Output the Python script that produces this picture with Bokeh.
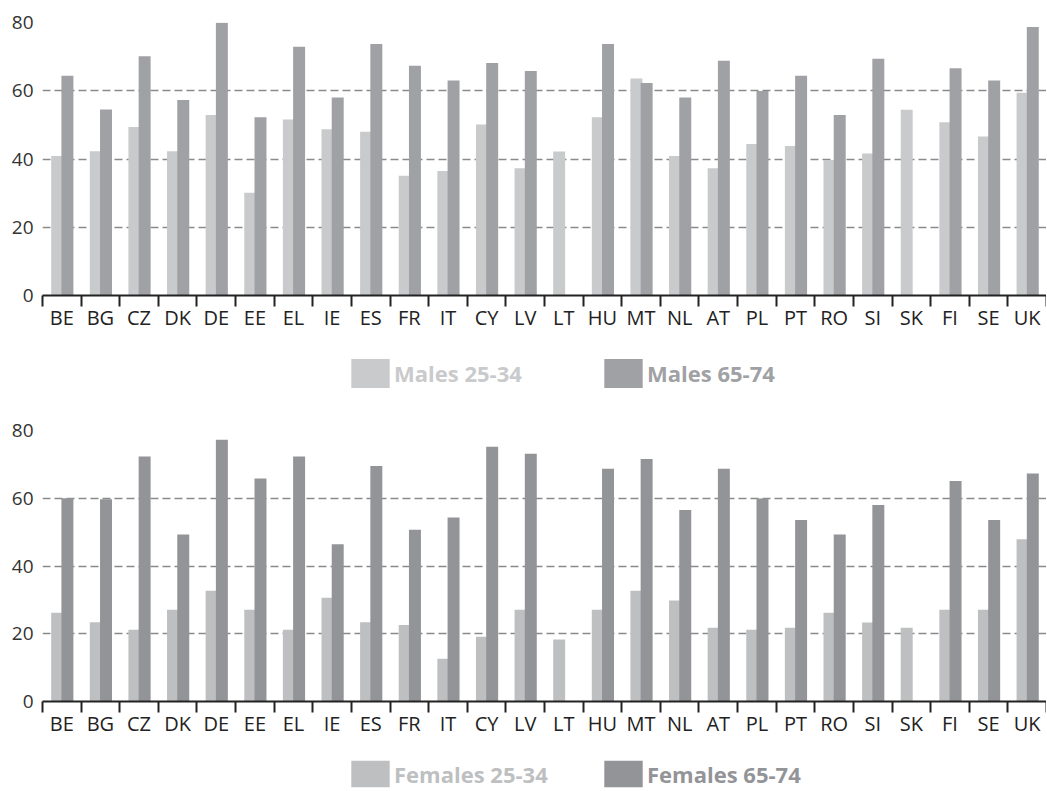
import numpy as np
from bokeh.plotting import figure
from bokeh.models import Range1d, FixedTicker, Legend, LegendItem, ColumnDataSource
from bokeh.layouts import column
from bokeh.embed import file_html
from bokeh.resources import INLINE

countries = ["BE", "BG", "CZ", "DK", "DE", "EE", "EL", "IE", "ES", "FR", "IT", "CY", "LV",
             "LT", "HU", "MT", "NL", "AT", "PL", "PT", "RO", "SI", "SK", "FI", "SE", "UK"]

males_25_34 = [40.9, 42.3, 49.4, 42.3, 52.9, 30.1, 51.6, 48.7, 48.0, 35.1, 36.5, 50.1, 37.3,
               42.2, 52.2, 63.6, 40.9, 37.3, 44.4, 43.8, 39.7, 41.6, 54.4, 50.8, 46.6, 59.4]
males_65_74 = [64.4, 54.5, 70.1, 57.3, 79.9, 52.2, 72.9, 58.0, 73.7, 67.3, 63.0, 68.1, 65.8,
               np.nan, 73.7, 62.3, 58.0, 68.8, 59.9, 64.4, 52.9, 69.4, np.nan, 66.6, 63.0, 78.7]
females_25_34 = [26.2, 23.4, 21.2, 27.1, 32.7, 27.1, 21.2, 30.6, 23.4, 22.6, 12.6, 19.1, 27.1,
                 18.3, 27.1, 32.7, 29.8, 21.8, 21.2, 21.8, 26.2, 23.3, 21.8, 27.1, 27.1, 47.9]
females_65_74 = [60.0, 59.7, 72.3, 49.3, 77.3, 65.8, 72.3, 46.4, 69.5, 50.7, 54.3, 75.2, 73.1,
                 np.nan, 68.7, 71.6, 56.5, 68.7, 59.9, 53.6, 49.3, 58.0, np.nan, 65.1, 53.6, 67.3]

y_ticks = [0, 20, 40, 60, 80]
legend_top = ["Males 25-34", "Males 65-74"]
legend_bottom = ["Females 25-34", "Females 65-74"]

FONT = "Open Sans"
W = 1046


def make_chart(young, old, light, dark, height, border_top, border_bottom):
    n = len(countries)
    idx = np.arange(n)
    src = ColumnDataSource(dict(
        xl=idx + 0.38, xd=idx + 0.645,
        young=np.array(young, dtype=float), old=np.array(old, dtype=float)))

    p = figure(width=W, height=height, output_backend="svg", toolbar_location=None,
               x_range=Range1d(0, n), y_range=Range1d(0, 80),
               min_border_left=42, min_border_right=0,
               min_border_top=border_top, min_border_bottom=border_bottom)
    p.outline_line_color = None

    p.vbar(x="xl", top="young", width=0.31, source=src, fill_color=light, line_color=None)
    p.vbar(x="xd", top="old", width=0.31, source=src, fill_color=dark, line_color=None)

    # x axis: labels at category centres, ticks at category boundaries
    centers = [i + 0.5 for i in range(n)]
    bounds = [float(i) for i in range(n + 1)]
    xa = p.xaxis[0]
    xa.ticker = FixedTicker(ticks=centers, minor_ticks=bounds)
    xa.major_label_overrides = {c: lab for c, lab in zip(centers, countries)}
    xa.major_tick_line_color = None
    xa.major_tick_out = 0
    xa.major_tick_in = 0
    xa.minor_tick_out = 11
    xa.minor_tick_in = 0
    xa.minor_tick_line_color = "#222222"
    xa.minor_tick_line_width = 2
    xa.axis_line_color = "#222222"
    xa.axis_line_width = 2
    xa.major_label_text_font = FONT
    xa.major_label_text_font_size = "20px"
    xa.major_label_text_color = "#222222"
    xa.major_label_standoff = -3

    ya = p.yaxis[0]
    ya.ticker = FixedTicker(ticks=y_ticks, minor_ticks=[])
    ya.axis_line_color = None
    ya.major_tick_line_color = None
    ya.minor_tick_line_color = None
    ya.major_label_text_font = FONT
    ya.major_label_text_font_size = "19px"
    ya.major_label_text_color = "#333333"
    ya.major_label_standoff = 3

    p.xgrid.grid_line_color = None
    p.ygrid.ticker = FixedTicker(ticks=y_ticks[1:])
    p.ygrid.grid_line_color = "#8a8a8a"
    p.ygrid.grid_line_width = 1.5
    p.ygrid.grid_line_dash = "8 4"
    return p


def make_legend(labels, light, dark, height, glyph_h, y0):
    q = figure(width=W, height=height, output_backend="svg", toolbar_location=None,
               x_range=Range1d(0, 1), y_range=Range1d(0, 1),
               x_axis_location=None, y_axis_location=None,
               min_border=0, min_border_left=0, min_border_right=0,
               min_border_top=0, min_border_bottom=0)
    q.outline_line_color = None
    q.xgrid.visible = False
    q.ygrid.visible = False
    # zero-height swatch renderers: only their legend entries are visible
    ra = q.vbar(x=[0.5], top=[0], width=0.1, fill_color=light, line_color=None)
    rb = q.vbar(x=[0.5], top=[0], width=0.1, fill_color=dark, line_color=None)
    for r, lab, col, x0 in [(ra, labels[0], light, 304), (rb, labels[1], dark, 557)]:
        lg = Legend(items=[LegendItem(label=lab, renderers=[r])],
                    location=(x0, y0), orientation="horizontal",
                    padding=0, margin=0, spacing=0,
                    border_line_color=None, background_fill_alpha=0,
                    glyph_width=48, glyph_height=glyph_h, label_height=glyph_h,
                    label_standoff=0,
                    label_text_font=FONT, label_text_font_style="bold",
                    label_text_font_size="22px", label_text_color=col)
        q.add_layout(lg, "center")
    return q


TOP_LIGHT, TOP_DARK = "#c9cacc", "#a0a1a4"
BOT_LIGHT, BOT_DARK = "#bebfc1", "#939498"

p1 = make_chart(males_25_34, males_65_74, TOP_LIGHT, TOP_DARK, 345, 22, 50)
l1 = make_legend(legend_top, TOP_LIGHT, TOP_DARK, 55, 36, 9)
p2 = make_chart(females_25_34, females_65_74, BOT_LIGHT, BOT_DARK, 347, 30, 46)
l2 = make_legend(legend_bottom, BOT_LIGHT, BOT_DARK, 43, 33, 0)

layout = column(p1, l1, p2, l2, spacing=0)
open("out.html", "w").write(file_html(layout, INLINE))
